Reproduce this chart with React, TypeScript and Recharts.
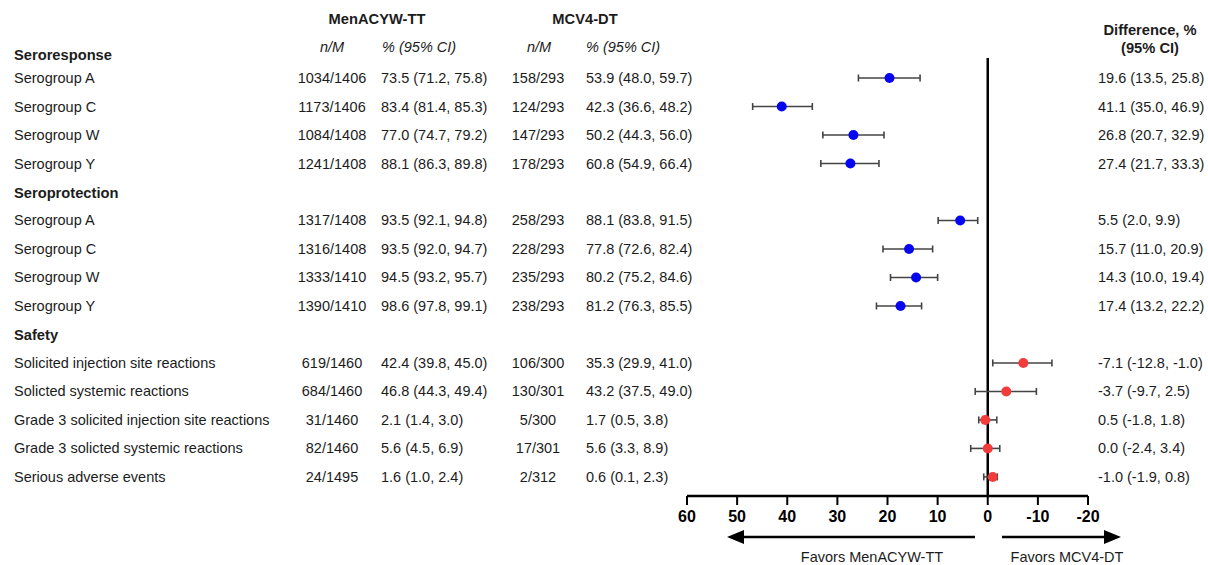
import { ScatterChart, Scatter, XAxis, YAxis, ErrorBar, ReferenceLine } from "recharts";

// Table rows, top to bottom. Section headers have no numbers.
const rowLabels = [
  "Seroresponse",
  "Serogroup A",
  "Serogroup C",
  "Serogroup W",
  "Serogroup Y",
  "Seroprotection",
  "Serogroup A",
  "Serogroup C",
  "Serogroup W",
  "Serogroup Y",
  "Safety",
  "Solicited injection site reactions",
  "Solicted systemic reactions",
  "Grade 3 solicited injection site reactions",
  "Grade 3 solicted systemic reactions",
  "Serious adverse events",
];
const sectionRows = [0, 5, 10];

const menNM = ["", "1034/1406", "1173/1406", "1084/1408", "1241/1408", "", "1317/1408", "1316/1408", "1333/1410", "1390/1410", "", "619/1460", "684/1460", "31/1460", "82/1460", "24/1495"];
const menPct = ["", "73.5 (71.2, 75.8)", "83.4 (81.4, 85.3)", "77.0 (74.7, 79.2)", "88.1 (86.3, 89.8)", "", "93.5 (92.1, 94.8)", "93.5 (92.0, 94.7)", "94.5 (93.2, 95.7)", "98.6 (97.8, 99.1)", "", "42.4 (39.8, 45.0)", "46.8 (44.3, 49.4)", "2.1 (1.4, 3.0)", "5.6 (4.5, 6.9)", "1.6 (1.0, 2.4)"];
const mcvNM = ["", "158/293", "124/293", "147/293", "178/293", "", "258/293", "228/293", "235/293", "238/293", "", "106/300", "130/301", "5/300", "17/301", "2/312"];
const mcvPct = ["", "53.9 (48.0, 59.7)", "42.3 (36.6, 48.2)", "50.2 (44.3, 56.0)", "60.8 (54.9, 66.4)", "", "88.1 (83.8, 91.5)", "77.8 (72.6, 82.4)", "80.2 (75.2, 84.6)", "81.2 (76.3, 85.5)", "", "35.3 (29.9, 41.0)", "43.2 (37.5, 49.0)", "1.7 (0.5, 3.8)", "5.6 (3.3, 8.9)", "0.6 (0.1, 2.3)"];

// Difference (MenACYW-TT minus MCV4-DT), % with 95% CI
const diff = [null, 19.6, 41.1, 26.8, 27.4, null, 5.5, 15.7, 14.3, 17.4, null, -7.1, -3.7, 0.5, 0.0, -1.0];
const diffLo = [null, 13.5, 35.0, 20.7, 21.7, null, 2.0, 11.0, 10.0, 13.2, null, -12.8, -9.7, -1.8, -2.4, -1.9];
const diffHi = [null, 25.8, 46.9, 32.9, 33.3, null, 9.9, 20.9, 19.4, 22.2, null, -1.0, 2.5, 1.8, 3.4, 0.8];

const xTicks = [60, 50, 40, 30, 20, 10, 0, -10, -20];
const rowTicks = rowLabels.map((_, i) => i);

const FONT = '"Liberation Sans", Arial, Helvetica, sans-serif';
const TEXT = "#1c1c1c";
const FS = 14.5;
const FS_BOLD = 14.7;

const points = diff
  .map((d, i) => (d == null ? null : {
    row: i,
    diff: d,
    err: [d - (diffLo[i] as number), (diffHi[i] as number) - d],
    safety: i > 10,
  }))
  .filter((p): p is { row: number; diff: number; err: number[]; safety: boolean } => p !== null);

const immuno = points.filter((p) => !p.safety);
const safety = points.filter((p) => p.safety);

const fmt = (v: number) => v.toFixed(1);

const RowTick = (props: any) => {
  const { y, payload } = props;
  const i = payload.value as number;
  const isSection = sectionRows.includes(i);
  const d = diff[i];
  // the first section title sits a little lower, under the column sub-headers
  const dy = isSection ? (i === 0 ? 5 : 1) : 0;
  return (
    <g fontFamily={FONT} fontSize={FS} fill={TEXT}>
      <text x={14} y={y + dy} dominantBaseline="central" fontWeight={isSection ? 700 : 400} fontSize={isSection ? FS_BOLD : FS}>
        {rowLabels[i]}
      </text>
      {!isSection && (
        <>
          <text x={332} y={y} dominantBaseline="central" textAnchor="middle">{menNM[i]}</text>
          <text x={381} y={y} dominantBaseline="central">{menPct[i]}</text>
          <text x={538} y={y} dominantBaseline="central" textAnchor="middle">{mcvNM[i]}</text>
          <text x={586} y={y} dominantBaseline="central">{mcvPct[i]}</text>
          {d != null && (
            <text x={1098} y={y} dominantBaseline="central">
              {`${fmt(d)} (${fmt(diffLo[i] as number)}, ${fmt(diffHi[i] as number)})`}
            </text>
          )}
        </>
      )}
    </g>
  );
};

const dot = (color: string) => (p: any) => <circle cx={p.cx} cy={p.cy} r={5} fill={color} />;

export default function App() {
  return (
    <div style={{ position: "absolute", left: 0, top: 0, width: 1208, height: 565, background: "#fff", fontFamily: FONT }}>
      <ScatterChart width={1208} height={565} margin={{ top: 41, right: 120, bottom: 39, left: 686 }}>
        <XAxis
          type="number"
          dataKey="diff"
          domain={[-20, 60]}
          reversed
          ticks={xTicks}
          interval={0}
          height={30}
          axisLine={{ stroke: "#000", strokeWidth: 2.5 }}
          tickLine={{ stroke: "#000", strokeWidth: 2 }}
          tickSize={9}
          tickMargin={6}
          tick={{ fill: "#000", fontSize: 16, fontWeight: 700 }}
        />
        <YAxis
          type="number"
          dataKey="row"
          domain={[-0.3, 15.67]}
          reversed
          ticks={rowTicks}
          interval={0}
          width={1}
          axisLine={false}
          tickLine={false}
          tick={<RowTick />}
        />
        <ReferenceLine
          segment={[{ x: 0, y: 0.3 }, { x: 0, y: 15.67 }]}
          stroke="#000"
          strokeWidth={2.5}
        />
        <Scatter data={immuno} isAnimationActive={false} shape={dot("#0505f2")}>
          <ErrorBar dataKey="err" direction="x" width={3.5} stroke="#444" strokeWidth={1.6} />
        </Scatter>
        <Scatter data={safety} isAnimationActive={false} shape={dot("#f23b3b")}>
          <ErrorBar dataKey="err" direction="x" width={3.5} stroke="#444" strokeWidth={1.6} />
        </Scatter>
      </ScatterChart>

      {/* column headers and the favour arrows under the axis */}
      <svg width={1208} height={565} style={{ position: "absolute", left: 0, top: 0, pointerEvents: "none" }} fontFamily={FONT} fill={TEXT}>
        <text x={377} y={19} textAnchor="middle" dominantBaseline="central" fontWeight={700} fontSize={FS_BOLD}>MenACYW-TT</text>
        <text x={585} y={19} textAnchor="middle" dominantBaseline="central" fontWeight={700} fontSize={FS_BOLD}>MCV4-DT</text>
        <text x={332} y={47} textAnchor="middle" dominantBaseline="central" fontStyle="italic" fontSize={FS}>n/M</text>
        <text x={382} y={47} dominantBaseline="central" fontStyle="italic" fontSize={FS}>% (95% CI)</text>
        <text x={539} y={47} textAnchor="middle" dominantBaseline="central" fontStyle="italic" fontSize={FS}>n/M</text>
        <text x={586} y={47} dominantBaseline="central" fontStyle="italic" fontSize={FS}>% (95% CI)</text>
        <text x={1150} y={30} textAnchor="middle" dominantBaseline="central" fontWeight={700} fontSize={FS_BOLD}>Difference, %</text>
        <text x={1150} y={48} textAnchor="middle" dominantBaseline="central" fontWeight={700} fontSize={FS_BOLD}>(95% CI)</text>

        <line x1={975} y1={537} x2={740} y2={537} stroke="#000" strokeWidth={2.5} />
        <polygon points="727,537 744,530 744,544" fill="#000" />
        <line x1={1002} y1={537} x2={1106} y2={537} stroke="#000" strokeWidth={2.5} />
        <polygon points="1121,537 1104,530 1104,544" fill="#000" />
        <text x={872} y={557} textAnchor="middle" dominantBaseline="central" fontSize={FS}>Favors MenACYW-TT</text>
        <text x={1067} y={557} textAnchor="middle" dominantBaseline="central" fontSize={FS}>Favors MCV4-DT</text>
      </svg>
    </div>
  );
}
